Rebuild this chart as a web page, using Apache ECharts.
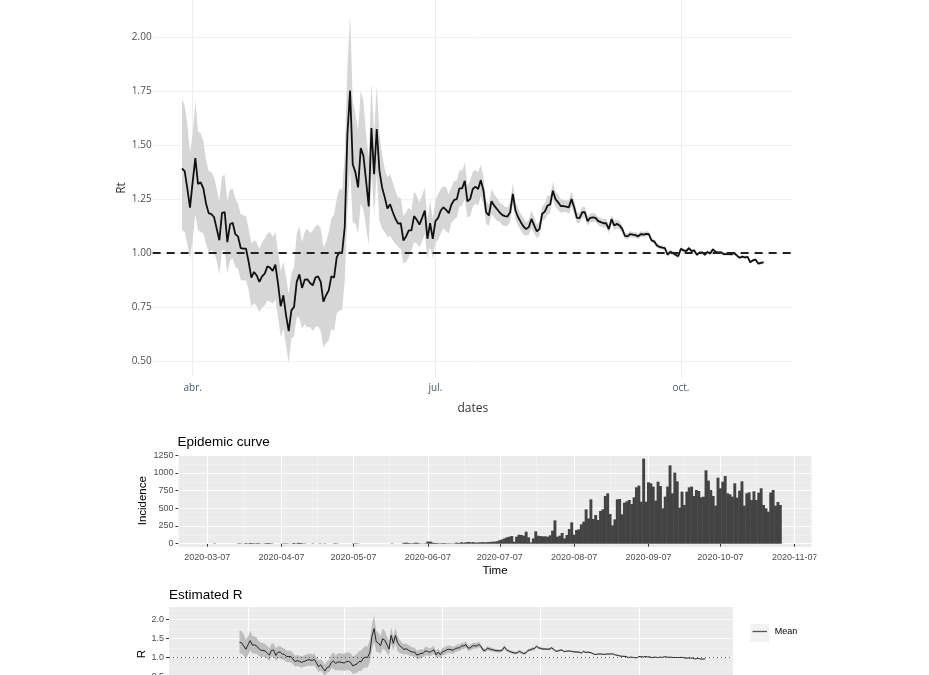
<!DOCTYPE html>
<html><head><meta charset="utf-8">
<script src="https://cdn.jsdelivr.net/npm/echarts@6/dist/echarts.min.js"></script>
<style>html,body{margin:0;padding:0;background:#fff;overflow:hidden}#c{width:929px;height:675px}</style>
</head><body><div id="c"></div>
<script>
const rtMean=[1.392,1.38,1.30,1.21,1.33,1.44,1.32,1.328,1.30,1.23,
1.185,1.18,1.167,1.113,1.059,1.186,1.19,1.05,1.133,1.14,
1.087,1.077,1.023,1.02,1.02,.958,.886,.912,.896,.866,
.892,.904,.938,.932,.917,.946,.858,.753,.804,.711,
.638,.734,.75,.866,.901,.838,.876,.878,.861,.85,
.886,.892,.866,.774,.804,.827,.892,.886,.981,1.003,
1.0,1.12,1.55,1.753,1.412,1.374,1.304,1.487,1.451,1.335,
1.216,1.58,1.366,1.575,1.382,1.304,1.258,1.206,1.226,1.19,
1.159,1.136,1.138,1.058,1.077,1.105,1.105,1.171,1.154,1.132,
1.163,1.197,1.066,1.138,1.066,1.148,1.163,1.197,1.212,1.2,
1.185,1.225,1.246,1.25,1.3,1.3,1.335,1.24,1.25,1.297,
1.308,1.297,1.338,1.289,1.189,1.174,1.24,1.22,1.205,1.189,
1.177,1.171,1.169,1.189,1.274,1.197,1.166,1.143,1.123,1.111,
1.12,1.158,1.128,1.1,1.112,1.182,1.192,1.22,1.225,1.289,
1.25,1.235,1.217,1.218,1.215,1.212,1.25,1.212,1.163,1.162,
1.189,1.189,1.148,1.163,1.165,1.163,1.148,1.143,1.138,1.138,
1.111,1.157,1.128,1.135,1.128,1.112,1.08,1.077,1.088,1.085,
1.083,1.077,1.088,1.085,1.089,1.088,1.058,1.054,1.035,1.028,
1.025,1.023,.992,1.005,1.0,.992,.985,1.02,1.012,1.009,
1.023,1.009,1.012,.992,1.002,1.003,.992,1.005,.998,1.017,
1.005,1.003,1.003,.995,.995,.995,.994,1.0,.988,.978,
.983,.98,.982,.957,.966,.969,.951,.954,.957];
const rtUpper=[1.714,1.683,1.598,1.467,1.55,1.706,1.564,1.556,1.52,1.43,
1.38,1.374,1.35,1.30,1.24,1.356,1.363,1.24,1.293,1.30,
1.25,1.23,1.18,1.175,1.17,1.113,1.043,1.059,1.05,1.02,
1.05,1.066,1.09,1.097,1.074,1.097,1.005,.92,.958,.889,
.811,.904,.935,1.09,1.124,1.05,1.097,1.113,1.093,1.102,
1.124,1.133,1.113,1.025,1.05,1.097,1.159,1.179,1.25,1.30,
1.29,1.46,1.86,2.11,1.706,1.644,1.567,1.753,1.706,1.55,
1.443,1.79,1.55,1.776,1.55,1.459,1.39,1.35,1.366,1.327,
1.289,1.258,1.255,1.17,1.19,1.21,1.197,1.286,1.266,1.235,
1.266,1.305,1.151,1.243,1.158,1.243,1.274,1.297,1.309,1.305,
1.274,1.305,1.335,1.335,1.385,1.382,1.42,1.312,1.335,1.378,
1.385,1.374,1.409,1.351,1.243,1.225,1.297,1.274,1.258,1.235,
1.225,1.215,1.212,1.235,1.323,1.24,1.205,1.182,1.163,1.143,
1.154,1.2,1.163,1.132,1.148,1.215,1.231,1.266,1.266,1.328,
1.286,1.271,1.25,1.246,1.243,1.246,1.286,1.243,1.189,1.185,
1.215,1.215,1.169,1.182,1.185,1.182,1.166,1.163,1.158,1.158,
1.131,1.178,1.151,1.154,1.148,1.129,1.095,1.091,1.102,1.098,
1.096,1.09,1.101,1.097,1.101,1.1,1.07,1.065,1.046,1.038,
1.035,1.033,1.002,1.015,1.01,1.001,.994,1.029,1.021,1.018,
1.032,1.017,1.02,1.0,1.01,1.011,1.0,1.012,1.005,1.024,
1.012,1.01,1.01,1.002,1.002,1.002,1.001,1.007,.995,.985,
.99,.987,.989,.964,.973,.976,.958,.961,.964];
const rtLower=[1.105,1.097,1.043,.974,1.059,1.18,1.105,1.097,1.09,1.043,
1.005,1.012,1.005,.966,.901,1.012,1.012,.904,.966,.974,
.935,.927,.876,.873,.873,.827,.75,.768,.753,.726,
.746,.757,.78,.775,.765,.784,.703,.61,.649,.572,
.49,.603,.613,.703,.70,.649,.669,.654,.657,.638,
.657,.66,.638,.561,.583,.595,.649,.638,.719,.734,
.734,.873,1.2,1.40,1.144,1.136,1.09,1.23,1.2,1.12,
1.04,1.37,1.18,1.37,1.15,1.113,1.097,1.074,1.08,1.059,
1.043,1.028,1.02,.95,.958,.98,1.01,1.05,1.045,1.025,
1.055,1.09,.975,1.03,.975,1.05,1.06,1.09,1.115,1.1,
1.09,1.14,1.155,1.165,1.215,1.22,1.25,1.165,1.17,1.215,
1.23,1.22,1.265,1.225,1.135,1.125,1.18,1.165,1.15,1.145,
1.13,1.125,1.125,1.145,1.225,1.155,1.125,1.105,1.085,1.08,
1.085,1.115,1.09,1.068,1.08,1.15,1.155,1.175,1.185,1.25,
1.215,1.2,1.185,1.19,1.19,1.18,1.215,1.18,1.138,1.138,
1.163,1.163,1.127,1.142,1.145,1.144,1.13,1.123,1.118,1.118,
1.091,1.136,1.105,1.116,1.108,1.095,1.065,1.063,1.074,1.072,
1.07,1.064,1.075,1.073,1.077,1.076,1.046,1.043,1.024,1.018,
1.015,1.013,.982,.995,.99,.983,.976,1.011,1.003,1.0,
1.014,1.001,1.004,.984,.994,.995,.984,.998,.991,1.01,
.998,.996,.996,.988,.988,.988,.987,.993,.981,.971,
.976,.973,.975,.95,.959,.962,.944,.947,.95];
const incidence=[0,0,0,0,0,0,0,0,0,0,0,0,0,0,0,5,0,0,0,0,0,0,0,0,0,5,5,0,
8,5,10,8,5,8,5,0,5,10,8,5,0,0,0,3,5,5,3,0,10,5,12,10,5,3,0,0,5,0,0,5,0,5,0,0,0,
5,5,0,0,0,0,0,0,5,5,3,0,0,0,0,0,0,0,0,0,0,0,0,0,5,0,0,0,0,
12,15,10,5,8,15,8,3,3,5,30,30,15,10,8,5,8,8,5,5,3,5,
15,10,20,15,20,25,20,22,15,18,20,22,20,22,25,28,30,35,
50,61,75,90,99,108,28,99,127,123,
113,170,90,19,75,175,113,108,104,104,
99,118,184,330,99,113,151,75,123,208,
302,127,193,203,274,311,486,358,627,349,
406,335,462,486,675,712,420,259,344,627,
632,415,580,599,618,561,656,797,821,594,
1203,594,868,854,807,608,877,816,500,665,
807,1108,712,1005,882,509,736,547,736,797,
807,675,759,745,656,665,1038,892,759,675,
538,934,783,877,958,712,698,665,854,651,
750,882,538,712,726,618,741,618,722,783,
547,500,453,722,759,538,590,547];
const rtTicks=[0.5,0.75,1,1.25,1.5,1.75,2];
const rtMonths={'2020-04-01':'abr.','2020-07-01':'jul.','2020-10-01':'oct.'};
const incTicks=[0,250,500,750,1000,1250];
const incMinor=[125,375,625,875,1125];
const rTicks=[0.5,1,1.5,2];
const rMinor=[0.75,1.25,1.75,2.25];
const curveDates=['2020-03-07','2020-04-07','2020-05-07','2020-06-07','2020-07-07','2020-08-07','2020-09-07','2020-10-07','2020-11-07'];
const curveMinorDates=['2020-03-22','2020-04-22','2020-05-22','2020-06-22','2020-07-22','2020-08-22','2020-09-22','2020-10-22'];
const rDates=['2020-04-01','2020-05-16','2020-07-01','2020-08-16','2020-10-01'];

function dayList(start,end){const o=[];let t=Date.parse(start+'T00:00:00Z');const e=Date.parse(end+'T00:00:00Z');
  while(t<=e){o.push(new Date(t).toISOString().slice(0,10));t+=864e5;}return o;}
const topDays=dayList('2020-03-17','2020-11-12');
const lowDays=dayList('2020-02-24','2020-11-14');
const pad=(arr,days)=>{const k=days.indexOf('2020-03-28');return days.map((d,i)=>(i<k||i-k>=arr.length)?null:arr[i-k]);};
const padDiff=(days)=>pad(rtUpper.map((u,i)=>u-rtLower[i]),days);

const ARIAL='"Liberation Sans",Arial,sans-serif', OPEN='"Open Sans",sans-serif';
const inc=d=>incidence[lowDays.indexOf(d)];
const band=(name,days,g,color)=>[
 {name:name+' lower',type:'line',xAxisIndex:g,yAxisIndex:g,stack:name,data:pad(rtLower,days),symbol:'none',silent:true,lineStyle:{width:0},z:2},
 {name:name+' band',type:'line',xAxisIndex:g,yAxisIndex:g,stack:name,data:padDiff(days),symbol:'none',silent:true,lineStyle:{width:0},areaStyle:{color:color,opacity:1},z:2}];
const gridLines=(g,values,color,width)=>({name:'grid'+g+width,type:'line',xAxisIndex:g,yAxisIndex:g,data:[],silent:true,z:1,
  markLine:{silent:true,z:1,symbol:'none',animation:false,label:{show:false},data:values.map(v=>({yAxis:v})),lineStyle:{color:color,type:'solid',width:width}}});
const yName=(text,x,y,font,size,color)=>({type:'text',x:x,y:y,rotation:Math.PI/2,silent:true,z:10,
  style:{text:text,align:'center',verticalAlign:'middle',fontFamily:font,fontSize:size,fill:color}});

const option={
 animation:false,backgroundColor:'#fff',
 title:[
  {text:'Epidemic curve',left:177.5,top:435,padding:0,textStyle:{fontFamily:ARIAL,fontSize:13.5,fontWeight:'normal',color:'#000'}},
  {text:'Estimated R',left:169,top:588,padding:0,textStyle:{fontFamily:ARIAL,fontSize:13.5,fontWeight:'normal',color:'#000'}}],
 grid:[
  {left:152.65,top:0,width:640.3,height:377,show:false,outerBoundsMode:'none'},
  {left:178.5,top:455,width:633,height:92,show:true,backgroundColor:'#EBEBEB',borderWidth:0,outerBoundsMode:'none'},
  {left:169,top:607,width:564,height:94,show:true,backgroundColor:'#EBEBEB',borderWidth:0,outerBoundsMode:'none'}],
 legend:{data:[{name:'Mean',icon:'rect'}],left:752.5,top:627,itemWidth:14.5,itemHeight:1.3,itemGap:0,padding:0,
  itemStyle:{color:'#555'},
  textStyle:{fontFamily:ARIAL,fontSize:9,color:'#000',padding:[0,0,0,2.7]}},
 graphic:[
  {type:'rect',shape:{x:750.7,y:624,width:18.3,height:18},style:{fill:'#F2F2F2'},z:0,silent:true},
  {type:'rect',shape:{x:816.5,y:548,width:112,height:18},style:{fill:'#fff'},z:100,silent:true},
  yName('Rt',121.5,188,OPEN,12,'#333'),
  yName('Incidence',143,500.7,ARIAL,11.5,'#000'),
  yName('R',141.5,654,ARIAL,11.5,'#000')],
 xAxis:[
  {type:'category',gridIndex:0,data:topDays,boundaryGap:false,name:'dates',nameLocation:'middle',nameGap:26,
   nameTextStyle:{fontFamily:OPEN,fontSize:12,color:'#333'},
   axisLine:{show:false},axisTick:{show:false},
   axisLabel:{interval:(i,v)=>v in rtMonths,formatter:v=>rtMonths[v]||'',margin:6,fontFamily:OPEN,fontSize:10,color:'#4a5560'},
   splitLine:{show:true,interval:(i,v)=>v in rtMonths,lineStyle:{color:'#EDEDED',width:1}}},
  {type:'category',gridIndex:1,data:lowDays,boundaryGap:false,name:'Time',nameLocation:'middle',nameGap:18,
   nameTextStyle:{fontFamily:ARIAL,fontSize:11.5,color:'#000'},
   axisLine:{show:false},axisTick:{show:true,length:3,interval:(i,v)=>curveDates.includes(v),lineStyle:{color:'#333'}},
   axisLabel:{interval:(i,v)=>curveDates.includes(v),margin:6.5,fontFamily:ARIAL,fontSize:9,color:'#4D4D4D'},
   splitLine:{show:true,interval:(i,v)=>curveDates.includes(v),lineStyle:{color:'#fff',width:1}}},
  {type:'category',gridIndex:2,data:lowDays,boundaryGap:false,axisLine:{show:false},axisTick:{show:false},axisLabel:{show:false},
   splitLine:{show:true,interval:(i,v)=>rDates.includes(v),lineStyle:{color:'#fff',width:1}}},
  {type:'category',gridIndex:1,data:lowDays,boundaryGap:false,axisLine:{show:false},axisTick:{show:false},axisLabel:{show:false},
   splitLine:{show:true,interval:(i,v)=>curveMinorDates.includes(v),lineStyle:{color:'#F5F5F5',width:0.6}}}],
 yAxis:[
  {type:'value',gridIndex:0,min:0.4249,max:2.1735,
   axisLine:{show:false},axisTick:{show:false},
   axisLabel:{customValues:rtTicks,formatter:v=>v.toFixed(2),margin:1,fontFamily:OPEN,fontSize:10,color:'#4d4d4d'},
   splitLine:{show:false}},
  {type:'value',gridIndex:1,min:-46.7,max:1254,
   axisLine:{show:false},axisTick:{show:true,length:3,customValues:incTicks,lineStyle:{color:'#333'}},
   axisLabel:{customValues:incTicks,formatter:v=>String(v),margin:5,fontFamily:ARIAL,fontSize:9,color:'#4D4D4D'},
   splitLine:{show:false}},
  {type:'value',gridIndex:2,min:-0.15,max:2.324,
   axisLine:{show:false},axisTick:{show:true,length:3,customValues:rTicks,lineStyle:{color:'#333'}},
   axisLabel:{customValues:rTicks,formatter:v=>v.toFixed(1),margin:5,fontFamily:ARIAL,fontSize:9,color:'#4D4D4D'},
   splitLine:{show:false}}],
 series:[
  gridLines(0,rtTicks,'#F0F0F0',1),
  gridLines(1,incMinor,'#F5F5F5',0.6),
  gridLines(1,incTicks,'#fff',1),
  gridLines(2,rMinor,'#F5F5F5',0.6),
  gridLines(2,rTicks,'#fff',1),
  ...band('Rt',topDays,0,'#D6D6D6'),
  {name:'Rt',type:'line',xAxisIndex:0,yAxisIndex:0,data:pad(rtMean,topDays),symbol:'none',z:4,
   lineStyle:{color:'#111',width:1.8},
   markLine:{silent:true,symbol:'none',label:{show:false},data:[{yAxis:1}],lineStyle:{color:'#222',type:[8,6],width:2}}},
  {name:'Incidence',type:'bar',xAxisIndex:1,yAxisIndex:1,data:lowDays.map(inc),barWidth:2.9,itemStyle:{color:'#434343'},z:2},
  ...band('R',lowDays,2,'#BEBEBE'),
  {name:'Mean',type:'line',xAxisIndex:2,yAxisIndex:2,data:pad(rtMean,lowDays),symbol:'none',z:4,
   lineStyle:{color:'#222',width:1},
   markLine:{silent:true,symbol:'none',label:{show:false},data:[{yAxis:1}],lineStyle:{color:'#555',type:[1,3],width:1}}}]
};
echarts.init(document.getElementById('c'),null,{renderer:'canvas'}).setOption(option);
</script></body></html>
